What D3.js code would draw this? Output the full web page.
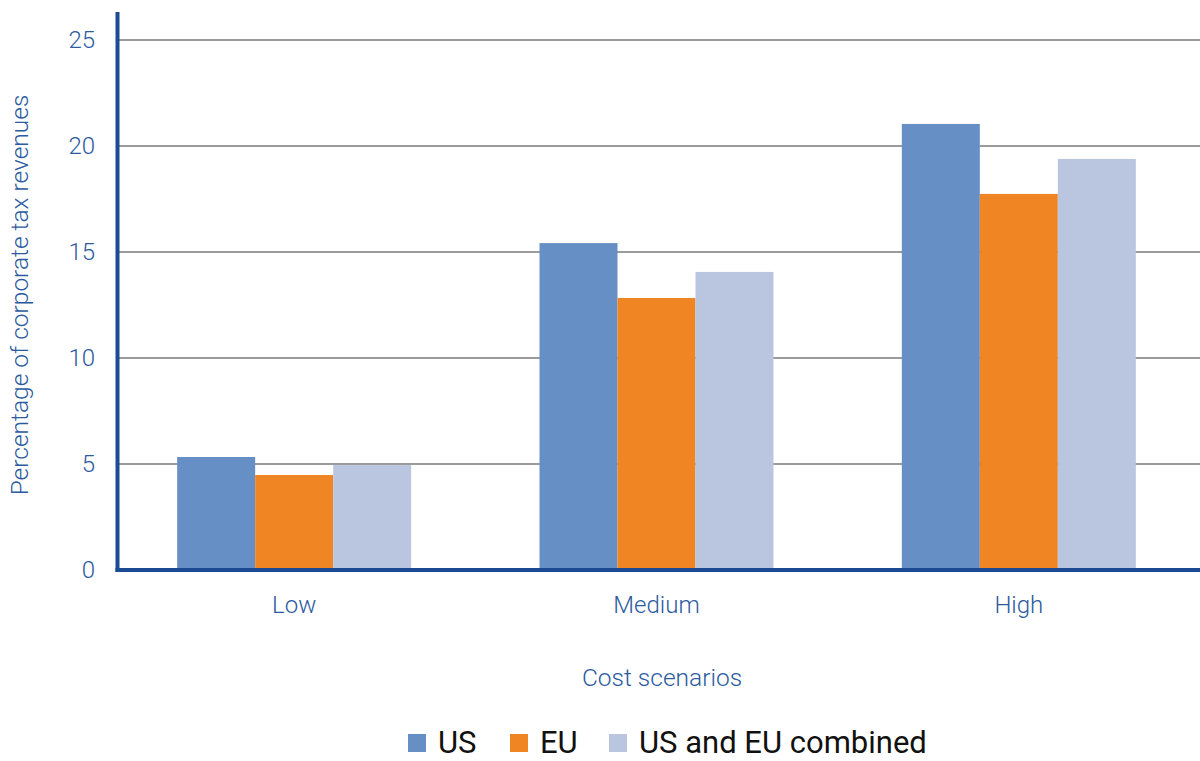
<!DOCTYPE html>
<html>
<head>
<meta charset="utf-8">
<script src="https://cdn.jsdelivr.net/npm/d3@7"></script>
<style>
  body { margin: 0; background: #fff; }
  text { font-family: Roboto, "Noto Sans", sans-serif; }
</style>
</head>
<body>
<script>
var categories = ['Low', 'Medium', 'High']
var seriesNames = ['US', 'EU', 'US and EU combined']
var usValues = [5.33, 15.42, 21.04]
var euValues = [4.48, 12.83, 17.74]
var combinedValues = [4.95, 14.06, 19.39]
var yTicks = [0, 5, 10, 15, 20, 25]

var colors = ['#668fc5', '#f08523', '#bac6e0']
var axisBlue = '#1c4b96'
var textBlue = '#2c5aa0'

var W = 1200, H = 761
var mLeft = 117, mRight = 1200, mTop = 40, mBottom = 570

var svg = d3.select('body').append('svg')
    .attr('width', W).attr('height', H)

var x0 = d3.scaleBand().domain(categories).range([113, mRight]).padding(0)
var x1 = d3.scaleBand().domain(seriesNames).range([0, 234])
var y = d3.scaleLinear().domain([0, 25]).range([mBottom, mTop])

// gridlines
svg.append('g').selectAll('line')
    .data(yTicks.filter(function(d){ return d > 0 }))
    .join('line')
    .attr('x1', mLeft).attr('x2', mRight)
    .attr('y1', function(d){ return y(d) }).attr('y2', function(d){ return y(d) })
    .attr('stroke', '#7a7a7a').attr('stroke-width', 1.5)

// y tick labels
svg.append('g').selectAll('text')
    .data(yTicks)
    .join('text')
    .attr('x', 95).attr('y', function(d){ return y(d) })
    .attr('dy', '0.35em')
    .attr('text-anchor', 'end')
    .attr('font-size', 24).attr('font-weight', 300)
    .attr('fill', textBlue)
    .text(function(d){ return d })

// bars
var table = categories.map(function(c, i){
    return { cat: c, vals: [usValues[i], euValues[i], combinedValues[i]] }
})

var groups = svg.append('g').selectAll('g')
    .data(table)
    .join('g')
    .attr('transform', function(d){
        return 'translate(' + (x0(d.cat) + x0.bandwidth() / 2 - 117) + ',0)'
    })

groups.selectAll('rect')
    .data(function(d){ return d.vals.map(function(v, j){ return { name: seriesNames[j], v: v, j: j } }) })
    .join('rect')
    .attr('x', function(d){ return x1(d.name) })
    .attr('width', x1.bandwidth())
    .attr('y', function(d){ return y(d.v) })
    .attr('height', function(d){ return mBottom - y(d.v) })
    .attr('fill', function(d){ return colors[d.j] })

// axis lines
svg.append('line')
    .attr('x1', mLeft + 0.5).attr('x2', mLeft + 0.5)
    .attr('y1', 12).attr('y2', mBottom + 2)
    .attr('stroke', axisBlue).attr('stroke-width', 4)
svg.append('line')
    .attr('x1', mLeft - 1.5).attr('x2', mRight)
    .attr('y1', mBottom).attr('y2', mBottom)
    .attr('stroke', axisBlue).attr('stroke-width', 4)

// category labels
svg.append('g').selectAll('text')
    .data(categories)
    .join('text')
    .attr('x', function(d){ return x0(d) + x0.bandwidth() / 2 })
    .attr('y', 613)
    .attr('text-anchor', 'middle')
    .attr('font-size', 24).attr('font-weight', 300)
    .attr('fill', textBlue)
    .text(function(d){ return d })

// axis titles
svg.append('text')
    .attr('x', 662).attr('y', 686)
    .attr('text-anchor', 'middle')
    .attr('font-size', 24.5).attr('font-weight', 300)
    .attr('fill', textBlue)
    .text('Cost scenarios')

svg.append('text')
    .attr('transform', 'translate(28,295) rotate(-90)')
    .attr('text-anchor', 'middle')
    .attr('font-size', 24.5).attr('font-weight', 300)
    .attr('fill', textBlue)
    .text('Percentage of corporate tax revenues')

// legend
var legendX = [408, 510, 609]
var legend = svg.append('g').selectAll('g')
    .data(seriesNames)
    .join('g')
    .attr('transform', function(d, i){ return 'translate(' + legendX[i] + ',734)' })

legend.append('rect')
    .attr('width', 18).attr('height', 18)
    .attr('fill', function(d, i){ return colors[i] })

legend.append('text')
    .attr('x', 30).attr('y', 18.5)
    .attr('font-size', 31)
    .attr('fill', '#111')
    .text(function(d){ return d })
</script>
</body>
</html>
